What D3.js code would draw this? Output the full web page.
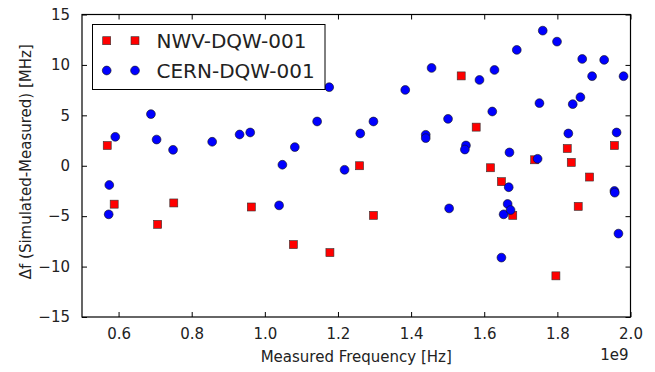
<!DOCTYPE html>
<html><head><meta charset="utf-8">
<script src="https://cdn.jsdelivr.net/npm/d3@7"></script>
<style>
html,body{margin:0;padding:0;background:#fff;}
svg{display:block;font-family:"DejaVu Sans",sans-serif;}
</style></head>
<body>
<script>
// NWV-DQW-001 (red squares)
const nwvFreq = [0.569e9,0.588e9,0.707e9,0.751e9,0.963e9,1.078e9,1.178e9,1.259e9,1.297e9,1.537e9,1.578e9,1.617e9,1.647e9,1.678e9,1.738e9,1.796e9,1.827e9,1.838e9,1.857e9,1.888e9,1.956e9];
const nwvDelta = [2.01,-3.81,-5.81,-3.69,-4.09,-7.82,-8.61,0.0,-4.92,8.91,3.83,-0.20,-1.58,-4.92,0.59,-10.92,1.71,0.33,-4.03,-1.12,2.01];
// CERN-DQW-001 (blue circles)
const cernFreq = [0.5746e9,0.573e9,0.591e9,0.6885e9,0.704e9,0.749e9,0.856e9,0.931e9,0.960e9,1.039e9,1.048e9,1.082e9,1.143e9,1.176e9,1.218e9,1.261e9,1.297e9,1.384e9,1.440e9,1.440e9,1.456e9,1.501e9,1.504e9,1.550e9,1.547e9,1.587e9,1.628e9,1.622e9,1.647e9,1.653e9,1.664e9,1.667e9,1.669e9,1.672e9,1.689e9,1.746e9,1.751e9,1.760e9,1.799e9,1.830e9,1.842e9,1.863e9,1.868e9,1.895e9,1.928e9,1.956e9,1.957e9,1.962e9,1.967e9,1.981e9];
const cernDelta = [-1.91,-4.82,2.87,5.12,2.60,1.58,2.38,3.10,3.30,-3.93,0.10,1.85,4.39,7.79,-0.40,3.20,4.39,7.52,3.07,2.74,9.70,4.65,-4.23,2.01,1.61,8.51,9.50,5.38,-9.11,-4.82,-3.79,-2.13,1.32,-4.39,11.49,0.69,6.21,13.40,12.31,3.20,6.11,6.80,10.59,8.88,10.50,-2.50,-2.67,3.30,-6.73,8.88];
const xTicks = [0.6e9,0.8e9,1.0e9,1.2e9,1.4e9,1.6e9,1.8e9,2.0e9];
const yTicks = [-15,-10,-5,0,5,10,15];
const seriesNames = ["NWV-DQW-001","CERN-DQW-001"];
const seriesColors = ["#ff0000","#0000ff"];

const W=655,H=372;
const L=82,R=630.5,T=14.5,B=317;
const svg=d3.select("body").append("svg").attr("width",W).attr("height",H);
svg.append("rect").attr("width",W).attr("height",H).attr("fill","#fff");

const x=d3.scaleLinear().domain([0.5e9,2.0e9]).range([L,R]);
const y=d3.scaleLinear().domain([-15,15]).range([B,T]);

const fs=15;
// bottom axis (ticks inward)
const xb=svg.append("g").attr("transform",`translate(0,${B})`)
  .call(d3.axisBottom(x).tickValues(xTicks).tickSizeInner(-5).tickSizeOuter(0).tickPadding(11).tickFormat(d=>(d/1e9).toFixed(1)));
const xt=svg.append("g").attr("transform",`translate(0,${T})`)
  .call(d3.axisTop(x).tickValues(xTicks).tickSizeInner(-5).tickSizeOuter(0).tickFormat(""));
const yl=svg.append("g").attr("transform",`translate(${L},0)`)
  .call(d3.axisLeft(y).tickValues(yTicks).tickSizeInner(-5).tickSizeOuter(0).tickPadding(12).tickFormat(d=>d<0?"\u2212"+Math.abs(d):String(d)));
const yr=svg.append("g").attr("transform",`translate(${R},0)`)
  .call(d3.axisRight(y).tickValues(yTicks).tickSizeInner(-5).tickSizeOuter(0).tickFormat(""));
[xb,xt,yl,yr].forEach(g=>{
  g.select(".domain").remove();
  g.selectAll(".tick line").attr("stroke","#000").attr("stroke-width",1);
  g.selectAll(".tick text").attr("font-size",fs).attr("fill","#222").attr("font-family","DejaVu Sans");
});
xb.selectAll(".tick text").attr("dy","0.71em");

// markers
const sq=8, rad=4.4;
svg.append("g").selectAll("rect").data(nwvFreq.map((f,i)=>[f,nwvDelta[i]])).join("rect")
  .attr("x",d=>x(d[0])-sq/2).attr("y",d=>y(d[1])-sq/2).attr("width",sq).attr("height",sq)
  .attr("fill",seriesColors[0]).attr("stroke","#333").attr("stroke-width",0.6);
svg.append("g").selectAll("circle").data(cernFreq.map((f,i)=>[f,cernDelta[i]])).join("circle")
  .attr("cx",d=>x(d[0])).attr("cy",d=>y(d[1])).attr("r",rad)
  .attr("fill",seriesColors[1]).attr("stroke","#111").attr("stroke-width",0.6);

// frame
svg.append("rect").attr("x",L).attr("y",T).attr("width",R-L).attr("height",B-T)
  .attr("fill","none").attr("stroke","#000").attr("stroke-width",1.2);

// legend
const lg=svg.append("g");
lg.append("rect").attr("x",92.5).attr("y",24.5).attr("width",232.5).attr("height",65)
  .attr("fill","#fff").attr("stroke","#000").attr("stroke-width",1);
const ly=[40.7,70.5];
[106.7,135].forEach(mx=>{
  lg.append("rect").attr("x",mx-sq/2).attr("y",ly[0]-sq/2).attr("width",sq).attr("height",sq)
    .attr("fill",seriesColors[0]).attr("stroke","#333").attr("stroke-width",0.6);
  lg.append("circle").attr("cx",mx).attr("cy",ly[1]).attr("r",rad)
    .attr("fill",seriesColors[1]).attr("stroke","#111").attr("stroke-width",0.6);
});
seriesNames.forEach((n,i)=>{
  lg.append("text").attr("x",156.5).attr("y",[47.8,77.8][i]).attr("font-size",20).attr("fill","#222").text(n);
});

// labels
svg.append("text").attr("x",(L+R)/2).attr("y",362).attr("text-anchor","middle")
  .attr("font-size",fs).attr("fill","#222").text("Measured Frequency [Hz]");
svg.append("text").attr("x",R-2).attr("y",359.5).attr("text-anchor","end")
  .attr("font-size",fs).attr("fill","#222").text("1e9");
svg.append("text").attr("transform",`translate(31,${(T+B)/2-4}) rotate(-90)`).attr("text-anchor","middle")
  .attr("font-size",fs).attr("fill","#222").text("\u0394f (Simulated-Measured) [MHz]");
</script>
</body></html>
